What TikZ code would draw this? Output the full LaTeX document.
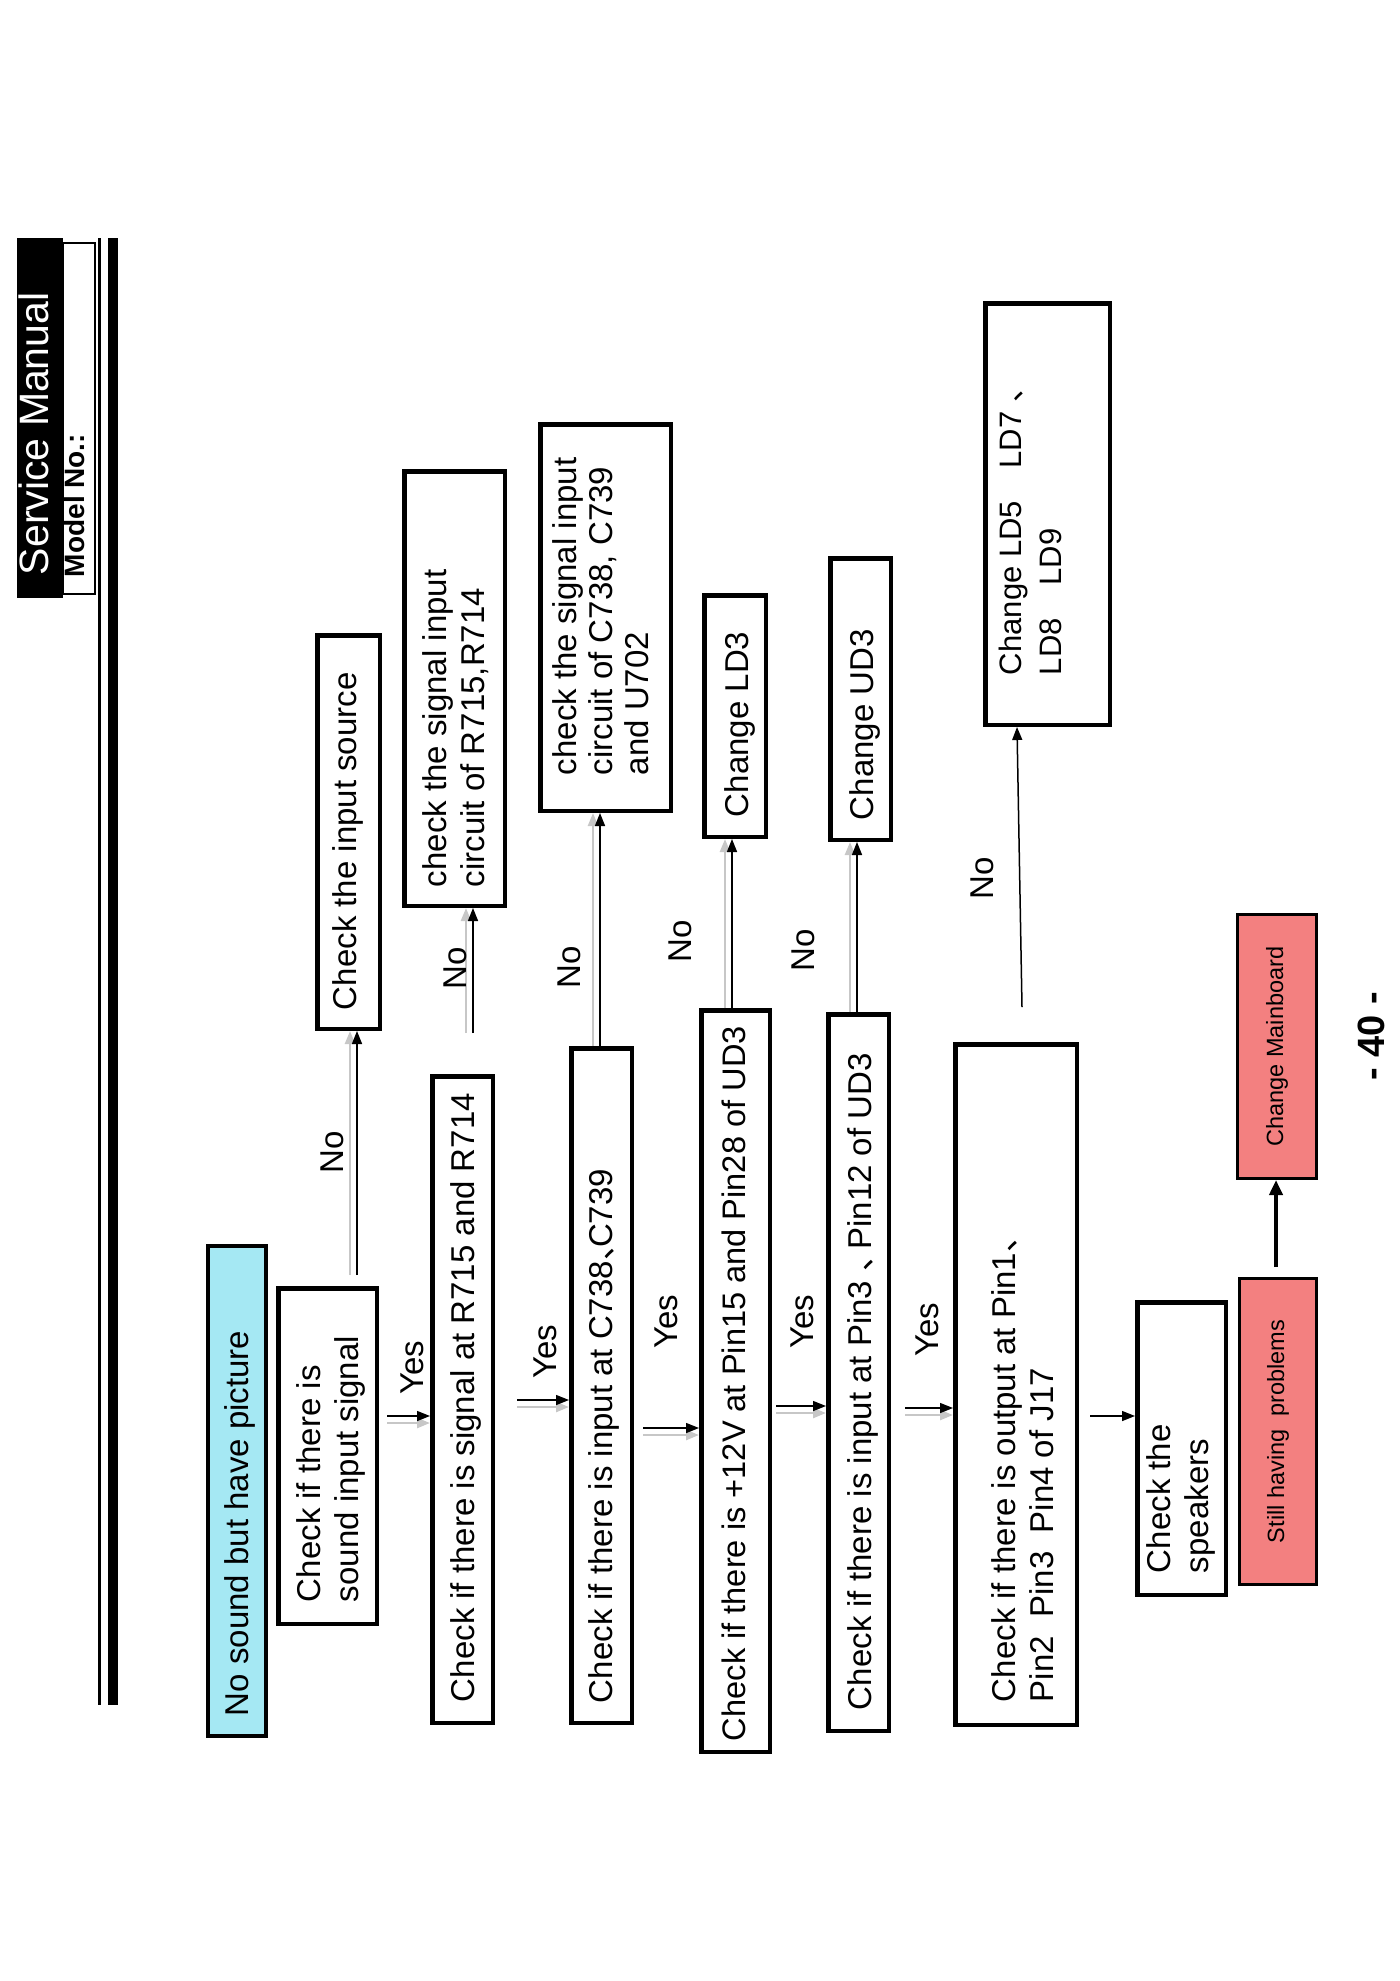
\documentclass[tikz,border=0pt]{standalone}
\usepackage{fontspec}
\setmainfont{Liberation Sans}
\newfontfamily\cjk{Noto Sans CJK SC}
\usetikzlibrary{arrows.meta}
\definecolor{cyanfill}{RGB}{165,232,243}
\definecolor{redfill}{RGB}{243,128,128}
\newcommand\rt[3][8pt]{\hspace*{#1}\rotatebox{90}{\makebox[#2][l]{\begin{tabular}{@{}l@{}}#3\end{tabular}}}}
\newcommand\rc[1]{\rotatebox{90}{#1}}
\newcommand\dun[1]{\makebox[#1][l]{\cjk 、}}
\begin{document}
\begin{tikzpicture}[x=1pt,y=-1pt,
  box/.style={draw, line width=4.5pt, inner sep=0pt, font=\fontsize{33}{38}\selectfont},
  redbox/.style={draw, line width=3pt, fill=redfill, inner sep=0pt, font=\fontsize{23.5}{28}\selectfont},
  lbl/.style={font=\fontsize{33}{38}\selectfont, rotate=90, inner sep=0pt},
  arr/.style={line width=1.5pt, -{Triangle[length=13pt,width=10pt]}},
  shv/.style={preaction={draw=black!22, line width=2.5pt, transform canvas={shift={(-7pt,0pt)}}}},
  shh/.style={preaction={draw=black!22, line width=2.5pt, transform canvas={shift={(0pt,-7pt)}}}},
]
\useasboundingbox (0,0) rectangle (1400,1981);

% header
\node[fill=black, minimum width=45pt, minimum height=360pt, inner sep=0pt, text=white,
      font=\fontsize{41}{46}\selectfont] (hdr) at (39.5,418) {\rt[0pt]{314pt}{Service Manual}};
\node[draw, line width=2pt, fill=white, minimum width=31pt, minimum height=351pt, inner sep=0pt,
      font=\bfseries\fontsize{28}{32}\selectfont] (model) at (78.5,418.5) {\rt[0pt]{317pt}{Model No.:}};
\coordinate (rt) at (99.5,238);
\coordinate (rb) at (99.5,1705);
\draw[line width=3pt] (rt) -- (rb);
\draw[line width=10pt] ([xshift=13.5pt]rt) -- ([xshift=13.5pt]rb);

% main column
\node[box, line width=4pt, fill=cyanfill, minimum width=58pt, minimum height=490pt] (b1) at (237,1491)
  {\rt{450pt}{No sound but have picture}};
\node[box, minimum width=98.5pt, minimum height=335.5pt] (b2) at (327.5,1456)
  {\rt{292pt}{Check if there is\\sound input signal}};
\node[box, minimum width=60.5pt, minimum height=646.5pt] (b3) at (462.5,1399.5)
  {\rt{605pt}{Check if there is signal at R715 and R714}};
\node[box, minimum width=60.5pt, minimum height=674.5pt] (b4) at (601.5,1385.5)
  {\rt[6pt]{635pt}{Check if there is input at C738\dun{13pt}C739}};
\node[box, minimum width=68.5pt, minimum height=741.5pt, font=\fontsize{32.6}{38}\selectfont] (b5) at (735.5,1381)
  {\rt[4pt]{720pt}{Check if there is +12V at Pin15 and Pin28 of UD3}};
\node[box, minimum width=60.5pt, minimum height=716.5pt] (b6) at (858.5,1372.5)
  {\rt[10pt]{675pt}{Check if there is input at Pin3 \dun{22pt}Pin12 of UD3}};
\node[box, minimum width=121.5pt, minimum height=680.5pt] (b7) at (1016,1384.5)
  {\rt[22pt]{635pt}{Check if there is output at Pin1{\cjk 、}\\Pin2\ \ Pin3\ \ Pin4 of J17}};

% "No" column
\node[box, minimum width=62.5pt, minimum height=393.5pt] (b8) at (348.5,832)
  {\rt[0pt]{356pt}{Check the input source}};
\node[box, minimum width=100.5pt, minimum height=434.5pt] (b9) at (454.5,688.5)
  {\rt[6pt]{397pt}{check the signal input\\circuit of R715,R714}};
\node[box, minimum width=130.5pt, minimum height=386.5pt, font=\fontsize{33}{36}\selectfont] (b10) at (605.5,617.5)
  {\rt[0pt]{315pt}{check the signal input\\circuit of C738, C739\\and U702}};
\node[box, minimum width=61.5pt, minimum height=241.5pt] (b11) at (735,716)
  {\rt[11pt]{202pt}{Change LD3}};
\node[box, minimum width=60.5pt, minimum height=281.5pt] (b12) at (860.5,699)
  {\rt[10pt]{242pt}{Change UD3}};
\node[box, minimum width=124.5pt, minimum height=421.5pt, font=\fontsize{31}{40}\selectfont] (b13) at (1047.5,514)
  {\rt[-28pt]{322pt}{Change LD5\hspace{1.05em}LD7 {\cjk 、}\\LD8\hspace{1.05em}LD9}};

% bottom area
\node[box, minimum width=88.5pt, minimum height=292.5pt] (b14) at (1181.5,1448.5)
  {\rt[0pt]{249pt}{Check the\\speakers}};
\node[redbox, minimum width=77pt, minimum height=306pt] (b15) at (1278,1431.5)
  {\rc{Still having\ \ problems}};
\node[redbox, minimum width=79pt, minimum height=264pt] (b16) at (1277,1046.5)
  {\rc{Change Mainboard}};
\node[font=\bfseries\fontsize{38}{44}\selectfont, inner sep=0pt] (pg) at (1371,1036) {\rc{- 40 -}};

% Yes connectors
\coordinate (y1) at (387,1416);
\coordinate (y2) at (517,1400);
\coordinate (y3) at (643,1428);
\coordinate (y4) at (776,1406);
\coordinate (y5) at (905,1408);
\coordinate (sp) at (1090,1416);
\draw[arr,shh] (y1) -- (y1 -| b3.west);
\draw[arr,shh] (y2) -- (y2 -| b4.west);
\draw[arr,shh] (y3) -- (y3 -| b5.west);
\draw[arr,shh] (y4) -- (y4 -| b6.west);
\draw[arr,shh] (y5) -- (y5 -| b7.west);
\draw[arr] (sp) -- (sp -| b14.west);

\node[lbl] (t1) at (412,1368) {Yes};
\node[lbl] (t2) at (545,1352) {Yes};
\node[lbl] (t3) at (666,1322) {Yes};
\node[lbl] (t4) at (802,1322) {Yes};
\node[lbl] (t5) at (927,1330) {Yes};

% No connectors
\coordinate (n1) at (357,1275);
\coordinate (n2) at (473,1033);
\coordinate (n3) at (600,0);
\coordinate (n4) at (732,0);
\coordinate (n5) at (857,0);
\coordinate (n6) at (1022,1007);
\coordinate (n6e) at (1017,0);
\draw[arr,shv] (n1) -- (n1 |- b8.south);
\draw[arr,shv] (n2) -- (n2 |- b9.south);
\draw[arr,shv] (n3 |- b4.north) -- (n3 |- b10.south);
\draw[arr,shv] (n4 |- b5.north) -- (n4 |- b11.south);
\draw[arr,shv] (n5 |- b6.north) -- (n5 |- b12.south);
\draw[arr] (n6) -- (n6e |- b13.south);

\node[lbl] (o1) at (332,1152) {No};
\node[lbl] (o2) at (455,968) {No};
\node[lbl] (o3) at (569,967) {No};
\node[lbl] (o4) at (680,941) {No};
\node[lbl] (o5) at (803,950) {No};
\node[lbl] (o6) at (982,878) {No};

% still -> mainboard
\coordinate (st) at (1276,1267);
\draw[line width=4pt, -{Triangle[length=15pt,width=13pt]}] (st) -- (st |- b16.south);
\end{tikzpicture}
\end{document}
